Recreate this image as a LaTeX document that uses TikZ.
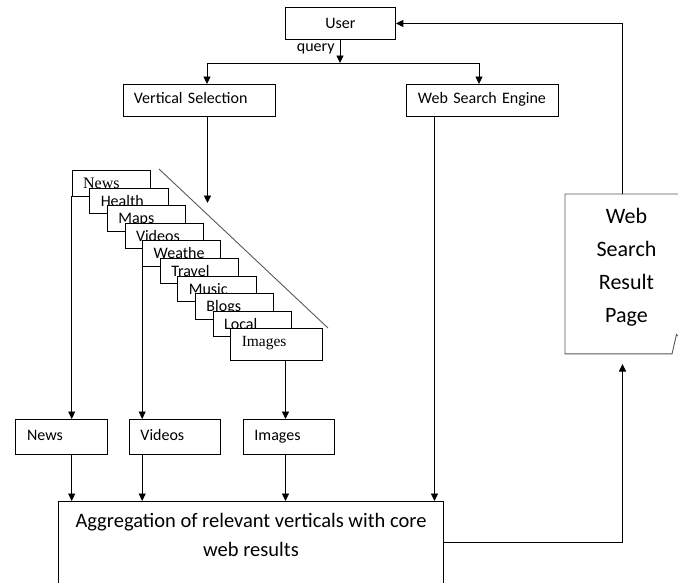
\documentclass[tikz,border=0pt]{standalone}
\usepackage{fontspec}
\setmainfont{Carlito}
\newfontfamily\serifx{Liberation Serif}
\usetikzlibrary{arrows.meta,calc}
\tikzset{
  box/.style={draw, line width=0.9pt, fill=white, inner sep=0pt, anchor=north west, font=\fontsize{16}{18}\selectfont},
  lbox/.style={box, align=left, text height=11pt, text depth=4.5pt},
  stk/.style={draw, line width=0.9pt, fill=white, anchor=north west, minimum width=78.3pt, minimum height=25.5pt, inner sep=0pt},
  stklab/.style={anchor=base west, inner sep=0pt, font=\fontsize{16}{18}\selectfont},
  arr/.style={-{Triangle[length=7.5pt,width=7pt]}, line width=0.9pt},
  gline/.style={draw=black!65, line width=0.9pt},
}
\begin{document}
\begin{tikzpicture}[x=1pt,y=-1pt,line width=0.9pt]
\useasboundingbox (0,0) rectangle (678,582);
\clip (0,0) rectangle (678,582);
\fill[white] (0,0) rectangle (678,582);

% top boxes
\node[box, minimum width=110pt, minimum height=32pt] (user) at (285,7) {User};
\node[anchor=base east, inner sep=0pt, font=\fontsize{16}{18}\selectfont] (query) at (335,51) {query};
\node[lbox, minimum height=32pt, text width=131pt, inner xsep=10.5pt] (vs) at (123,84) {Vertical Selection};
\node[lbox, minimum height=32pt, text width=129pt, inner xsep=11.5pt] (wse) at (406,84) {Web Search Engine};

\coordinate (split) at (340,63);
\coordinate (vsplit) at (207,63);
\coordinate (wsplit) at (479,63);
\draw[arr] (user.south -| split) -- (split);
\draw (vsplit) -- (wsplit);
\draw[arr] (vsplit) -- (vsplit |- vs.north);
\draw[arr] (wsplit) -- (wsplit |- wse.north);

% arrow into stack
\coordinate (vsdown) at (207.5,203);
\draw[arr] (vsdown |- vs.south) -- (vsdown);

% diagonal
\coordinate (d1) at (159,169);
\coordinate (d2) at (328,328);
\draw[gline] (d1) -- (d2);

% stacked vertical pages
\foreach \lab [count=\i from 0] in {{\serifx News},Health,Maps,Videos,Weathe,Travel,Music,Blogs,Local} {
  \node[stk] (s\i) at ({71.7+17.62*\i},{170+17.59*\i}) {};
  \node[stklab] (l\i) at ($(s\i.north west)+(11,18.5)$) {\lab};
}
\node[stk, minimum width=91.4pt, minimum height=31.7pt] (s9) at (230.3,328.3) {};
\node[stklab, font=\fontsize{15.5}{18}\serifx] (l9) at ($(s9.north west)+(11,18)$) {Images};

% selected verticals
\node[lbox, minimum height=35pt, text width=68.6pt, inner xsep=11.7pt] (bnews) at (15,419) {News};
\node[lbox, minimum height=35pt, text width=69pt, inner xsep=11pt] (bvid) at (129,419) {Videos};
\node[lbox, minimum height=35pt, text width=69pt, inner xsep=11pt] (bimg) at (243,419) {Images};

\coordinate (imgx) at (285.5,0);
\draw[arr] (s0.south west) -- (s0.south west |- bnews.north);
\draw[arr] (s4.south west) -- (s4.south west |- bvid.north);
\draw[arr] (imgx |- s9.south) -- (imgx |- bimg.north);

% aggregation
\node[box, minimum width=385pt, minimum height=100pt] (agg) at (58,501) {};
\node[anchor=base, align=center, inner sep=0pt, font=\fontsize{20.5}{28.3}\selectfont] (aggtext) at (251,556) {Aggregation of relevant verticals with core\\web results};

\draw[arr] (s0.south west |- bnews.south) -- (s0.south west |- agg.north);
\draw[arr] (s4.south west |- bvid.south) -- (s4.south west |- agg.north);
\draw[arr] (imgx |- bimg.south) -- (imgx |- agg.north);

\coordinate (wx) at (434.5,0);
\draw[arr] (wx |- wse.south) -- (wx |- agg.north);

% result page
\node[anchor=north west, minimum width=122pt, minimum height=159pt, inner sep=0pt] (page) at (565,194) {};
\draw[gline] (page.north east) -- (page.north west) -- (page.south west) -- ($(page.south west)+(107,0)$) -- ($(page.south west)+(111.5,-19.5)$) -- ($(page.south west)+(114,-17)$);
\node[align=center, inner sep=0pt, font=\fontsize{22}{33}\selectfont] (ptext) at (626.5,267) {Web\\Search\\Result\\Page};

\coordinate (ay) at (0,542);
\coordinate (px) at (622.5,0);
\coordinate (ptip) at (622.5,364);
\draw[arr] (agg.east |- ay) -- (px |- ay) -- (ptip);
\draw[arr] (px |- page.north) -- (px |- user.east) -- (user.east);
\end{tikzpicture}
\end{document}
